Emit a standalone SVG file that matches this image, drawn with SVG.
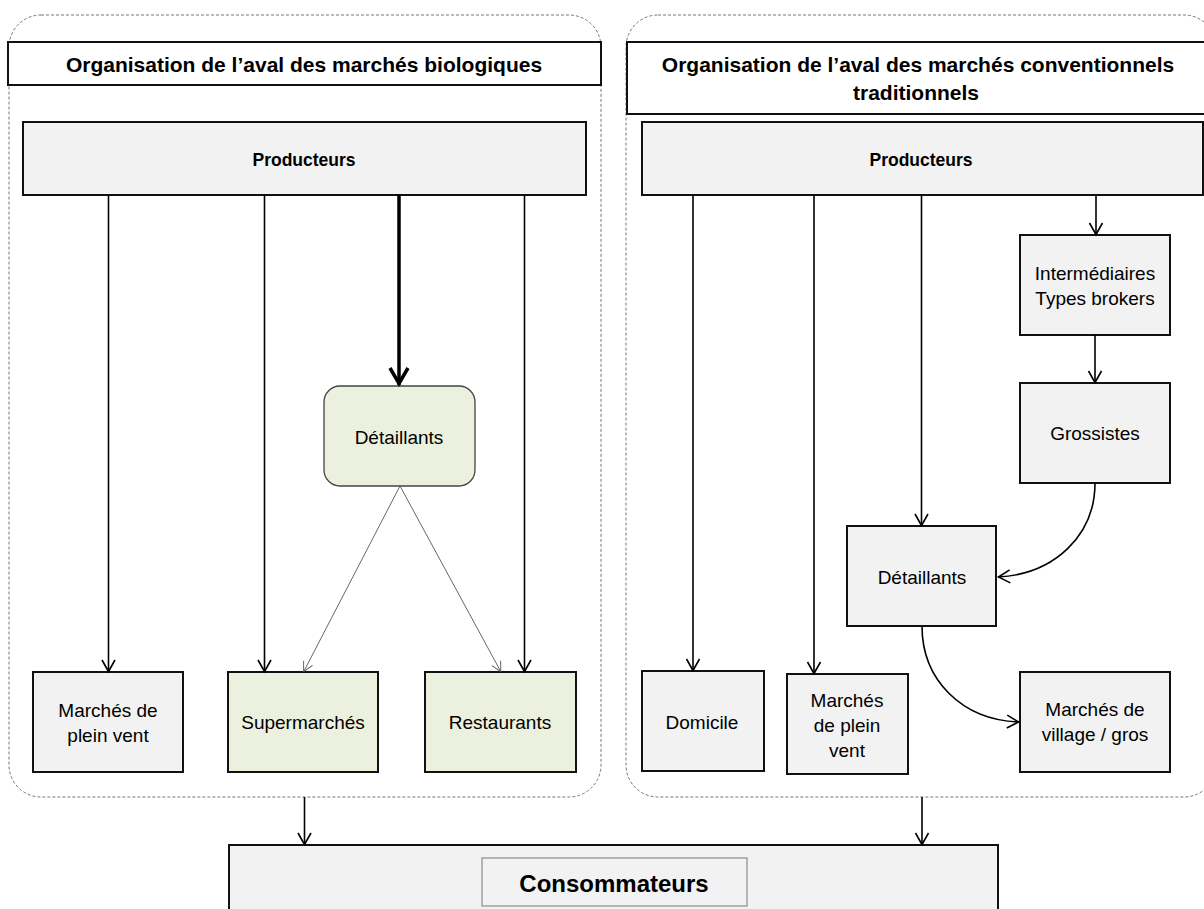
<svg xmlns="http://www.w3.org/2000/svg" width="1204" height="909" viewBox="0 0 1204 909">
<style>
.cont{fill:none;stroke:#777;stroke-width:1;stroke-dasharray:3 2}
.title{fill:#fff;stroke:#111;stroke-width:2}
.box{fill:#f2f2f2;stroke:#111;stroke-width:2}
.gbox{fill:#ebf1de;stroke:#111;stroke-width:2}
.tb{font-family:"Liberation Sans",Arial,sans-serif;font-weight:bold;fill:#000;text-anchor:middle;dominant-baseline:central}
.t{font-family:"Liberation Sans",Arial,sans-serif;font-size:19px;fill:#000;text-anchor:middle;dominant-baseline:central}
.c{fill:none;stroke:#000;stroke-width:1.6}
.thin{fill:none;stroke:#555;stroke-width:0.9}
</style>
<defs>
<marker id="arr" markerUnits="userSpaceOnUse" markerWidth="16" markerHeight="16" viewBox="-14 -8 16 16" refX="0" refY="0" orient="auto">
<path d="M-12,-6.5 L-0.5,0 L-12,6.5" fill="none" stroke="#000" stroke-width="1.6"/>
</marker>
<marker id="arrB" markerUnits="userSpaceOnUse" markerWidth="22" markerHeight="24" viewBox="-20 -12 22 24" refX="0" refY="0" orient="auto">
<path d="M-17,-9 L-1.5,0 L-17,9" fill="none" stroke="#000" stroke-width="3.5"/>
</marker>
<marker id="arrT" markerUnits="userSpaceOnUse" markerWidth="14" markerHeight="14" viewBox="-12 -7 14 14" refX="0" refY="0" orient="auto">
<path d="M-10,-5 L-0.3,0 L-10,5" fill="none" stroke="#555" stroke-width="0.9"/>
</marker>
</defs>

<g id="container-bio">
<rect class="cont" x="9" y="15" width="592" height="782" rx="32"/>
<rect class="title" x="8" y="42" width="593" height="43"/>
<text class="tb" x="304" y="64" font-size="21">Organisation de l’aval des marchés biologiques</text>
</g>
<g id="container-conv">
<rect class="cont" x="626" y="15" width="590" height="782" rx="32"/>
<rect class="title" x="627" y="42" width="590" height="72"/>
<text class="tb" x="918" y="64" font-size="21">Organisation de l’aval des marchés conventionnels</text>
<text class="tb" x="916" y="92" font-size="21">traditionnels</text>
</g>

<g id="bio-producteurs">
<rect class="box" x="23" y="122" width="563" height="73"/>
<text class="tb" x="304" y="160" font-size="17.5">Producteurs</text>
</g>
<g id="bio-detaillants">
<rect x="324" y="386" width="151" height="100" rx="16" fill="#ebf1de" stroke="#444" stroke-width="1.3"/>
<text class="t" x="399" y="437">Détaillants</text>
</g>
<g id="bio-marches">
<rect class="box" x="33" y="672" width="150" height="100"/>
<text class="t" x="108" y="710">Marchés de</text>
<text class="t" x="108" y="735">plein vent</text>
</g>
<g id="bio-supermarches">
<rect class="gbox" x="228" y="672" width="150" height="100"/>
<text class="t" x="303" y="722">Supermarchés</text>
</g>
<g id="bio-restaurants">
<rect class="gbox" x="425" y="672" width="151" height="100"/>
<text class="t" x="500" y="722">Restaurants</text>
</g>

<g id="conv-producteurs">
<rect class="box" x="642" y="122" width="561" height="73"/>
<text class="tb" x="921" y="160" font-size="17.5">Producteurs</text>
</g>
<g id="conv-intermediaires">
<rect class="box" x="1020" y="235" width="150" height="100"/>
<text class="t" x="1095" y="273">Intermédiaires</text>
<text class="t" x="1095" y="298">Types brokers</text>
</g>
<g id="conv-grossistes">
<rect class="box" x="1020" y="383" width="150" height="100"/>
<text class="t" x="1095" y="433">Grossistes</text>
</g>
<g id="conv-detaillants">
<rect class="box" x="847" y="526" width="149" height="100"/>
<text class="t" x="922" y="577">Détaillants</text>
</g>
<g id="conv-domicile">
<rect class="box" x="642" y="671" width="122" height="100"/>
<text class="t" x="702" y="722">Domicile</text>
</g>
<g id="conv-marches-plein-vent">
<rect class="box" x="787" y="674" width="121" height="100"/>
<text class="t" x="847" y="700">Marchés</text>
<text class="t" x="847" y="725">de plein</text>
<text class="t" x="847" y="750">vent</text>
</g>
<g id="conv-marches-village">
<rect class="box" x="1020" y="672" width="150" height="100"/>
<text class="t" x="1095" y="709">Marchés de</text>
<text class="t" x="1095" y="734">village / gros</text>
</g>

<g id="consommateurs">
<rect class="box" x="229" y="845" width="769" height="80"/>
<rect x="482" y="858" width="265" height="48" fill="#f2f2f2" stroke="#777" stroke-width="1"/>
<text class="tb" x="614" y="883" font-size="24">Consommateurs</text>
</g>

<g id="connectors">
<line class="c" x1="108.5" y1="195" x2="108.5" y2="672" marker-end="url(#arr)"/>
<line class="c" x1="264.5" y1="195" x2="264.5" y2="672" marker-end="url(#arr)"/>
<line class="c" x1="524.5" y1="195" x2="524.5" y2="672" marker-end="url(#arr)"/>
<line fill="none" stroke="#000" stroke-width="3.5" x1="399" y1="195" x2="399" y2="385" marker-end="url(#arrB)"/>
<line class="thin" x1="400" y1="486" x2="303.5" y2="672" marker-end="url(#arrT)"/>
<line class="thin" x1="400" y1="486" x2="501" y2="672" marker-end="url(#arrT)"/>

<line class="c" x1="693" y1="195" x2="693" y2="671" marker-end="url(#arr)"/>
<line class="c" x1="814" y1="195" x2="814" y2="674" marker-end="url(#arr)"/>
<line class="c" x1="921.5" y1="195" x2="921.5" y2="526" marker-end="url(#arr)"/>
<line class="c" x1="1096" y1="195" x2="1096" y2="235" marker-end="url(#arr)"/>
<line class="c" x1="1095" y1="335" x2="1095" y2="383" marker-end="url(#arr)"/>
<path class="c" d="M1095,483 C1095,535 1055,574 998,577" marker-end="url(#arr)"/>
<path class="c" d="M922,626 C922,680 962,720 1019,722" marker-end="url(#arr)"/>

<line class="c" x1="304.5" y1="797" x2="304.5" y2="845" marker-end="url(#arr)"/>
<line class="c" x1="922" y1="797" x2="922" y2="845" marker-end="url(#arr)"/>
</g>
</svg>
